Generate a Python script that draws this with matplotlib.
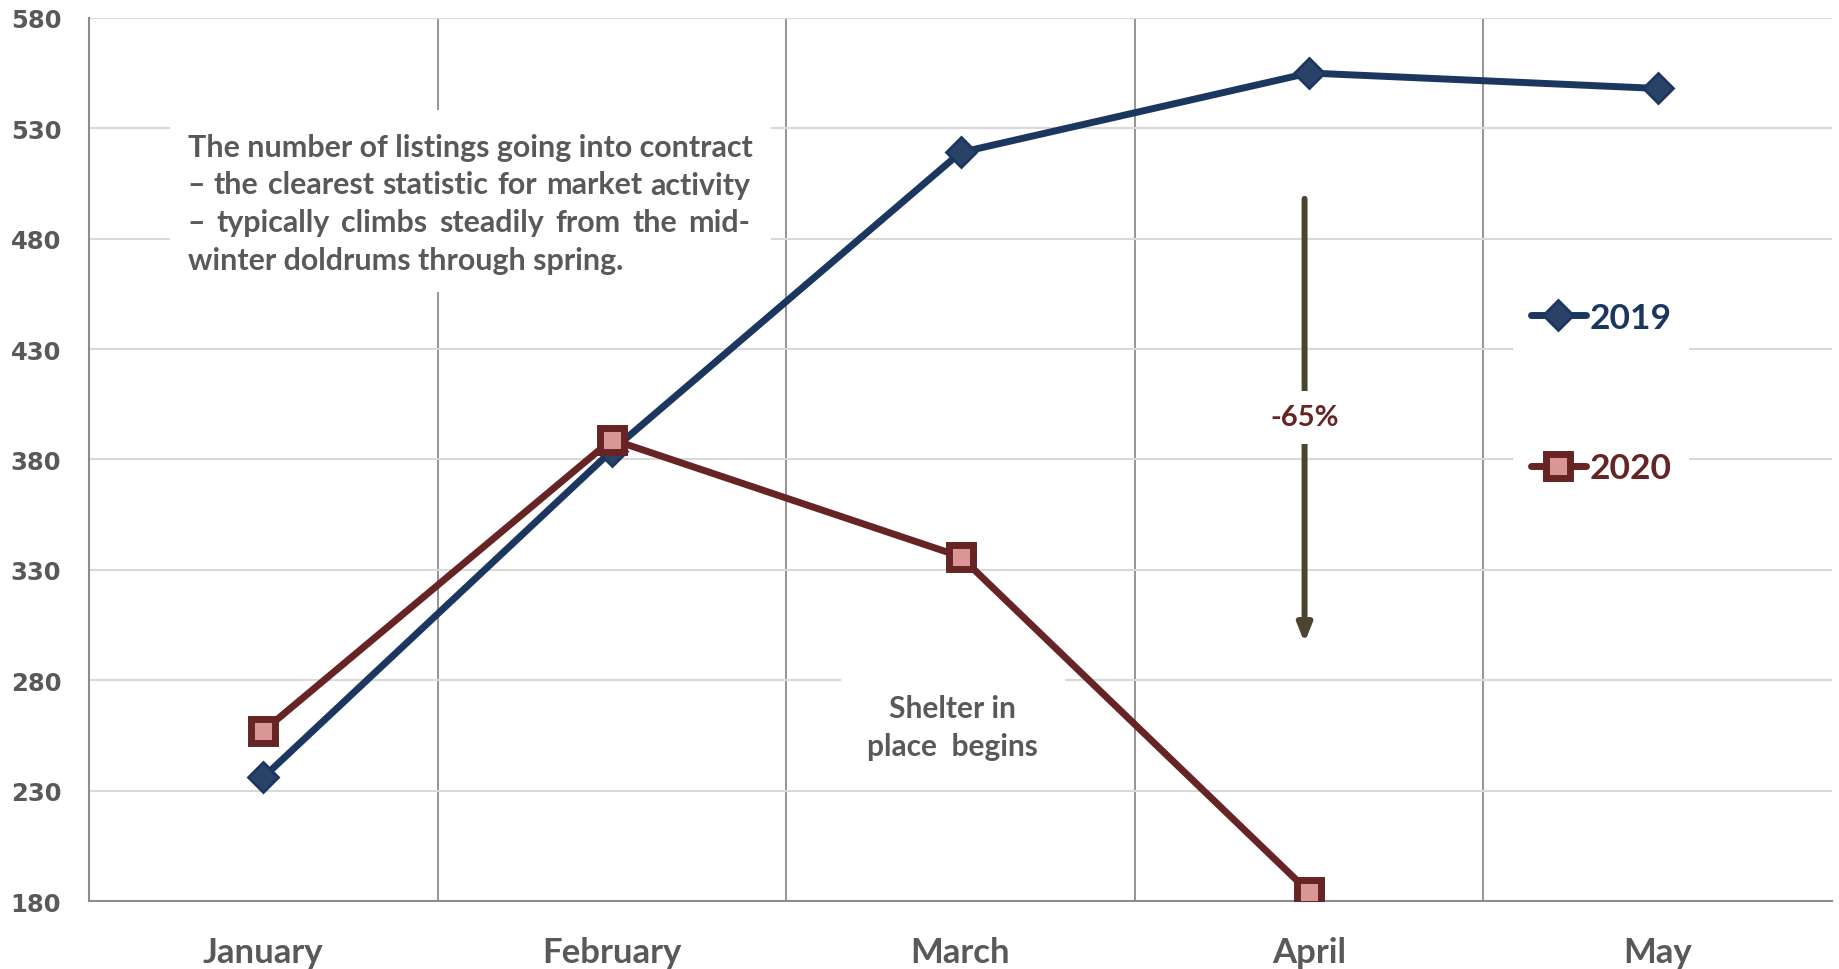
import matplotlib
matplotlib.use('Agg')
import matplotlib.pyplot as plt
from matplotlib.patches import Rectangle

months = ['January', 'February', 'March', 'April', 'May']
contracts_2019 = [236, 384, 519, 555, 548]
contracts_2020 = [257, 389, 336, 184]
y_ticks = [180, 230, 280, 330, 380, 430, 480, 530, 580]

note_lines = [
    "The number of listings going into contract",
    "\u2013 the clearest statistic for market activity",
    "\u2013 typically climbs steadily from the mid-",
    "winter doldrums through spring.",
]
shelter_text = "Shelter in\nplace  begins"
drop_label = "-65%"

W, H = 1839, 970
fig = plt.figure(figsize=(W / 100, H / 100), dpi=100)
X0, X1, Y0, Y1 = 89, 1832, 18.8, 902
ax = fig.add_axes([X0 / W, 1 - Y1 / H, (X1 - X0) / W, (Y1 - Y0) / H])

NAVY = '#1b375f'
MAROON = '#662424'
GRAY = '#595959'
CAL = 'Lato'

ax.set_xlim(-0.5, 4.5)
ax.set_ylim(180, 580)
ax.set_yticks(y_ticks)
ax.set_xticks(range(len(months)))
ax.set_xticklabels(months)
ax.set_xticks([i + 0.5 for i in range(len(months) - 1)], minor=True)
ax.set_axisbelow(True)
ax.grid(axis='y', which='major', color='#d9d9d9', lw=1.5)
ax.grid(axis='x', which='minor', color='#8c8c8c', lw=1.3)
ax.grid(axis='x', which='major', visible=False)
for s in ['top', 'right']:
    ax.spines[s].set_visible(False)
for s in ['left', 'bottom']:
    ax.spines[s].set_color('#8c8c8c')
    ax.spines[s].set_linewidth(1.5)
ax.tick_params(axis='both', which='both', length=0)
ax.tick_params(axis='y', pad=20)
ax.tick_params(axis='x', pad=25)
for lab in ax.get_yticklabels():
    lab.set_fontfamily('DejaVu Sans')
    lab.set_fontweight('bold')
    lab.set_fontsize(17.5)
    lab.set_color(GRAY)
for lab in ax.get_xticklabels():
    lab.set_fontfamily(CAL)
    lab.set_fontweight('bold')
    lab.set_fontsize(25)
    lab.set_color(GRAY)

l19, = ax.plot(range(len(contracts_2019)), contracts_2019, color=NAVY, lw=5,
               marker='D', ms=15, mfc='#2b4268', mec=NAVY, mew=2,
               solid_joinstyle='round', solid_capstyle='round', zorder=3, label='2019')
l20, = ax.plot(range(len(contracts_2020)), contracts_2020, color=MAROON, lw=5,
               marker='s', ms=17, mfc='#d99694', mec=MAROON, mew=5,
               solid_joinstyle='round', solid_capstyle='round', zorder=4, label='2020')

leg = ax.legend(handles=[l19, l20], loc='center left', bbox_to_anchor=(0.817, 0.575),
                prop={'family': CAL, 'weight': 'bold', 'size': 25.5},
                labelcolor='linecolor', handlelength=1.55, handletextpad=0.1,
                labelspacing=3.35, borderpad=0.5, borderaxespad=0, numpoints=1,
                frameon=True, fancybox=False, facecolor='white', edgecolor='none',
                framealpha=1)

# -65% arrow
ax.annotate('', xy=(2.987, 297), xytext=(2.987, 498),
            arrowprops=dict(arrowstyle='-|>,head_length=0.75,head_width=0.3',
                            lw=4.3, color='#4b4530', shrinkA=0, shrinkB=0,
                            mutation_scale=14), zorder=5)
ax.text(2.987, 399, drop_label, ha='center', va='center', color=MAROON,
        fontfamily=CAL, fontweight='bold', fontsize=21, zorder=6,
        bbox=dict(boxstyle='square,pad=0.45', fc='white', ec='none'))

# Shelter in place
ax.add_patch(Rectangle(((841 - X0) / (X1 - X0), 1 - (778 - Y0) / (Y1 - Y0)),
                       (1065 - 841) / (X1 - X0), (778 - 674) / (Y1 - Y0),
                       transform=ax.transAxes, fc='white', ec='none', zorder=1))
fig.text(952 / W, 1 - 728 / H, shelter_text, ha='center', va='center',
         multialignment='center', color=GRAY, fontfamily=CAL, fontweight='bold',
         fontsize=21.5, linespacing=1.42, zorder=6)

# Justified note
ax.add_patch(Rectangle(((170 - X0) / (X1 - X0), 1 - (293 - Y0) / (Y1 - Y0)),
                       (771 - 170) / (X1 - X0), (293 - 111) / (Y1 - Y0),
                       transform=ax.transAxes, fc='white', ec='none', zorder=1))
renderer = fig.canvas.get_renderer()


def width_px(s, size):
    t = fig.text(0, 0, s, fontfamily=CAL, fontweight='bold', fontsize=size)
    w = t.get_window_extent(renderer).width
    t.remove()
    return w


target_w = 563.0
fs = 20 * target_w / width_px(note_lines[0], 20)
left_px, top_px, step_px = 187.6, 147.5, 38.0
for i, line in enumerate(note_lines):
    y = 1 - (top_px + i * step_px) / H
    words = line.split(' ')
    if i in (1, 2):
        ws = [width_px(w, fs) for w in words]
        gap = (target_w - sum(ws)) / (len(words) - 1)
        x = left_px
        for w, wd in zip(words, ws):
            fig.text(x / W, y, w, ha='left', va='center', color=GRAY,
                     fontfamily=CAL, fontweight='bold', fontsize=fs)
            x += wd + gap
    else:
        fig.text(left_px / W, y, line, ha='left', va='center', color=GRAY,
                 fontfamily=CAL, fontweight='bold', fontsize=fs)

fig.savefig('out.png', dpi=100)
